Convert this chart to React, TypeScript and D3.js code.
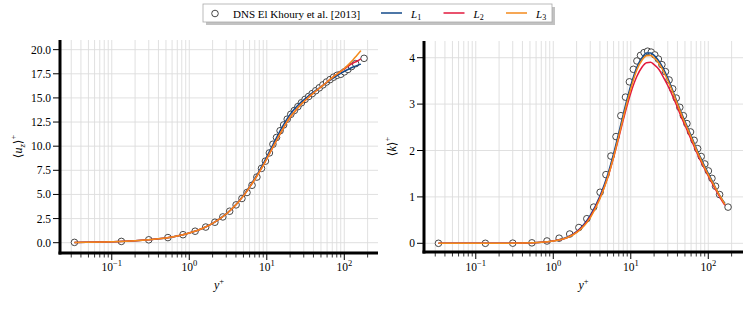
import React from 'react';
import * as d3 from 'd3';

// DNS sample locations (same y+ in both panels)
const yPlusDns = [0.033, 0.133, 0.3, 0.53, 0.83, 1.19, 1.63, 2.14, 2.71, 3.32, 4.02, 4.78, 5.55, 6.45, 7.45, 8.55, 9.6, 10.8,
  12.0, 13.35, 14.85, 16.5, 18.35, 20.4, 22.7, 25.2, 28.0, 31.2, 34.7, 38.6, 42.9, 47.7, 53.0, 59.0, 65.6, 72.9, 81.1,
  90.2, 100.3, 111.5, 124, 140, 180];
const uDns = [0.033, 0.133, 0.3, 0.53, 0.83, 1.19, 1.62, 2.12, 2.67, 3.26, 3.92, 4.58, 5.2, 5.95, 6.8, 7.7, 8.45, 9.3,
  10.2, 10.9, 11.6, 12.2, 12.8, 13.3, 13.7, 14.1, 14.5, 14.85, 15.15, 15.45, 15.75, 16.05, 16.35, 16.65, 16.9, 17.15, 17.35,
  17.45, 17.7, 17.95, 18.25, 18.55, 19.1];
const kDns = [0.0, 0.0, 0.003, 0.01, 0.05, 0.11, 0.2, 0.34, 0.53, 0.78, 1.1, 1.48, 1.88, 2.3, 2.75, 3.15, 3.48, 3.75,
  3.93, 4.05, 4.11, 4.14, 4.12, 4.06, 3.97, 3.85, 3.7, 3.52, 3.33, 3.13, 2.93, 2.75, 2.58, 2.4, 2.22, 2.04, 1.87,
  1.71, 1.56, 1.4, 1.23, 1.05, 0.78];

// model output grid
const yPlusModel = [0.033, 0.1, 0.2, 0.4, 0.7, 1, 1.5, 2, 3, 4, 5, 6, 7, 8, 9, 10, 12, 14, 16, 18, 20, 23, 26, 30, 35,
  40, 46, 53, 60, 70, 80, 90, 100, 115, 130, 145, 164];
const uL1 = [0.033, 0.1, 0.2, 0.4, 0.7, 1, 1.5, 2, 2.98, 3.95, 4.9, 5.8, 6.65, 7.45, 8.2, 8.9, 10.15, 11.2, 12.05, 12.75,
  13.3, 13.9, 14.35, 14.8, 15.25, 15.6, 15.95, 16.3, 16.6, 17.0, 17.3, 17.55, 17.75, 18.0, 18.2, 18.35, 18.5];
const uL2 = [0.033, 0.1, 0.2, 0.4, 0.7, 1, 1.5, 2, 2.97, 3.93, 4.85, 5.75, 6.55, 7.3, 8.0, 8.7, 9.9, 10.9, 11.75, 12.45,
  13.0, 13.6, 14.1, 14.6, 15.1, 15.5, 15.9, 16.3, 16.65, 17.1, 17.45, 17.75, 18.0, 18.35, 18.6, 18.8, 19.05];
const uL3 = [0.033, 0.1, 0.2, 0.4, 0.7, 1, 1.5, 2, 2.97, 3.93, 4.85, 5.75, 6.55, 7.3, 8.0, 8.7, 9.9, 10.9, 11.75, 12.45,
  13.0, 13.6, 14.1, 14.6, 15.1, 15.5, 15.9, 16.3, 16.65, 17.1, 17.45, 17.75, 18.05, 18.5, 18.95, 19.4, 19.9];
const kL1 = [0, 0, 0, 0.005, 0.02, 0.05, 0.13, 0.25, 0.6, 1.02, 1.46, 1.93, 2.38, 2.78, 3.12, 3.4, 3.8, 4.0, 4.1, 4.1,
  4.05, 3.93, 3.78, 3.56, 3.28, 3.03, 2.77, 2.53, 2.32, 2.05, 1.84, 1.66, 1.51, 1.31, 1.13, 0.99, 0.86];
const kL2 = [0, 0, 0, 0.005, 0.02, 0.05, 0.12, 0.24, 0.57, 0.98, 1.4, 1.85, 2.28, 2.66, 2.98, 3.24, 3.6, 3.8, 3.89, 3.9,
  3.85, 3.75, 3.6, 3.4, 3.16, 2.93, 2.68, 2.45, 2.24, 1.98, 1.77, 1.6, 1.45, 1.26, 1.1, 0.96, 0.82];
const kL3 = [0, 0, 0, 0.005, 0.02, 0.05, 0.12, 0.23, 0.55, 0.96, 1.4, 1.86, 2.31, 2.71, 3.05, 3.33, 3.74, 3.95, 4.04, 4.05,
  4.0, 3.88, 3.73, 3.51, 3.25, 3.0, 2.74, 2.5, 2.29, 2.02, 1.81, 1.63, 1.48, 1.29, 1.13, 0.99, 0.84];

const uTicks = [0, 2.5, 5, 7.5, 10, 12.5, 15, 17.5, 20];
const kTicks = [0, 1, 2, 3, 4];
const decades = [-1, 0, 1, 2];
const seriesNames = ['L1', 'L2', 'L3'];
const seriesColors = ['#134a8a', '#e2183c', '#f38a1c'];

const FONT = '"Liberation Serif", "DejaVu Serif", serif';

function Panel(props: any) {
  const { left, right, top, bottom, xDom, yDom, dnsY, models, ticks, fmt, yLabel, yLabelX } = props;
  const x = d3.scaleLog().domain(xDom).range([left, right]);
  const y = d3.scaleLinear().domain(yDom).range([bottom, top]);

  const minor: number[] = [];
  for (let d = -2; d <= 2; d++) {
    for (let m = 2; m <= 9; m++) {
      const v = m * Math.pow(10, d);
      if (v > xDom[0] && v < xDom[1]) minor.push(v);
    }
  }
  const major = decades.map(d => Math.pow(10, d));

  const line = d3.line<[number, number]>()
    .x(d => x(d[0]))
    .y(d => y(d[1]))
    .curve(d3.curveMonotoneX);

  return (
    <g>
      {/* grid */}
      {minor.concat(major).map((v, i) => (
        <line key={'gx' + i} x1={x(v)} x2={x(v)} y1={top} y2={bottom} stroke="#dcdcdc" strokeWidth={0.9} />
      ))}
      {ticks.map((t: number, i: number) => (
        <line key={'gy' + i} x1={left} x2={right} y1={y(t)} y2={y(t)} stroke="#dcdcdc" strokeWidth={0.9} />
      ))}

      {/* DNS markers */}
      {yPlusDns.map((yp, i) => (
        <circle key={'c' + i} cx={x(yp)} cy={y(dnsY[i])} r={3.3} fill="#fff" stroke="#333" strokeWidth={0.9} />
      ))}

      {/* model lines */}
      {models.map((vals: number[], j: number) => (
        <path key={'l' + j} d={line(yPlusModel.map((yp, i) => [yp, vals[i]] as [number, number])) || ''}
          fill="none" stroke={seriesColors[j]} strokeWidth={1.5} />
      ))}

      {/* spines */}
      <line x1={left} x2={left} y1={top} y2={bottom + 1.5} stroke="#000" strokeWidth={3} />
      <line x1={left - 1.5} x2={right} y1={bottom} y2={bottom} stroke="#000" strokeWidth={3} />

      {/* y ticks */}
      {ticks.map((t: number, i: number) => (
        <g key={'ty' + i}>
          <line x1={left - 7} x2={left} y1={y(t)} y2={y(t)} stroke="#000" strokeWidth={1} />
          <text x={left - 9} y={y(t) + 4} textAnchor="end" fontSize={11.5} fontFamily={FONT}>{fmt(t)}</text>
        </g>
      ))}

      {/* x ticks */}
      {minor.map((v, i) => (
        <line key={'mx' + i} x1={x(v)} x2={x(v)} y1={bottom} y2={bottom + 4.5} stroke="#000" strokeWidth={0.8} />
      ))}
      {decades.map((d, i) => (
        <g key={'tx' + i}>
          <line x1={x(Math.pow(10, d))} x2={x(Math.pow(10, d))} y1={bottom} y2={bottom + 7} stroke="#000" strokeWidth={1} />
          <text x={x(Math.pow(10, d))} y={271} textAnchor="middle" fontSize={11.5} fontFamily={FONT}>
            10<tspan fontSize={8.5} dy={-5}>{d < 0 ? '\u2212' + (-d) : d}</tspan>
          </text>
        </g>
      ))}

      {/* axis labels */}
      <text x={(left + right) / 2} y={289} textAnchor="middle" fontSize={12} fontFamily={FONT}>
        <tspan fontStyle="italic">y</tspan><tspan fontSize={8.5} dy={-5}>+</tspan>
      </text>
      <text transform={`translate(${yLabelX},${(top + bottom) / 2}) rotate(-90)`} textAnchor="middle"
        fontSize={12} fontFamily={FONT}>
        {yLabel}
      </text>
    </g>
  );
}

export default function App() {
  const uLabel = (
    <>
      {'\u27E8'}<tspan fontStyle="italic">u</tspan><tspan fontStyle="italic" fontSize={8.5} dy={2.5}>z</tspan>
      <tspan dy={-2.5}>{'\u27E9'}</tspan><tspan fontSize={8.5} dy={-6}>+</tspan>
    </>
  );
  const kLabel = (
    <>
      {'\u27E8'}<tspan fontStyle="italic">k</tspan>{'\u27E9'}<tspan fontSize={8.5} dy={-6}>+</tspan>
    </>
  );

  const legendItems = seriesNames.map((n, i) => ({ name: n, color: seriesColors[i], x: [381, 443.5, 506][i] }));

  return (
    <svg width={754} height={311} style={{ position: 'absolute', left: 0, top: 0 }}>
      <rect width={754} height={311} fill="#fff" />
      <Panel left={60} right={378} top={40} bottom={253}
        xDom={[Math.pow(10, -1.668), Math.pow(10, 2.435)]} yDom={[-1.067, 21.0]}
        dnsY={uDns} models={[uL1, uL2, uL3]} ticks={uTicks} fmt={(t: number) => t.toFixed(1)}
        yLabel={uLabel} yLabelX={22} />
      <Panel left={424} right={743} top={41} bottom={252}
        xDom={[Math.pow(10, -1.668), Math.pow(10, 2.448)]} yDom={[-0.1875, 4.36]}
        dnsY={kDns} models={[kL1, kL2, kL3]} ticks={kTicks} fmt={(t: number) => String(t)}
        yLabel={kLabel} yLabelX={396} />

      {/* legend */}
      <g>
        <rect x={206} y={7} width={349} height={18} fill="#999" opacity={0.6} />
        <rect x={203} y={4} width={349} height={18} fill="#fff" stroke="#aaa" strokeWidth={0.8} />
        <circle cx={215} cy={13.5} r={3.3} fill="#fff" stroke="#333" strokeWidth={0.9} />
        <text x={233} y={17.5} fontSize={11} fontFamily={FONT}>DNS El Khoury et al. [2013]</text>
        {legendItems.map((it, i) => (
          <g key={'lg' + i}>
            <line x1={it.x} x2={it.x + 21} y1={13} y2={13} stroke={it.color} strokeWidth={1.5} />
            <text x={it.x + 30} y={17.5} fontSize={11} fontFamily={FONT}>
              <tspan fontStyle="italic">L</tspan><tspan fontSize={8} dy={2}>{it.name.slice(1)}</tspan>
            </text>
          </g>
        ))}
      </g>
    </svg>
  );
}
